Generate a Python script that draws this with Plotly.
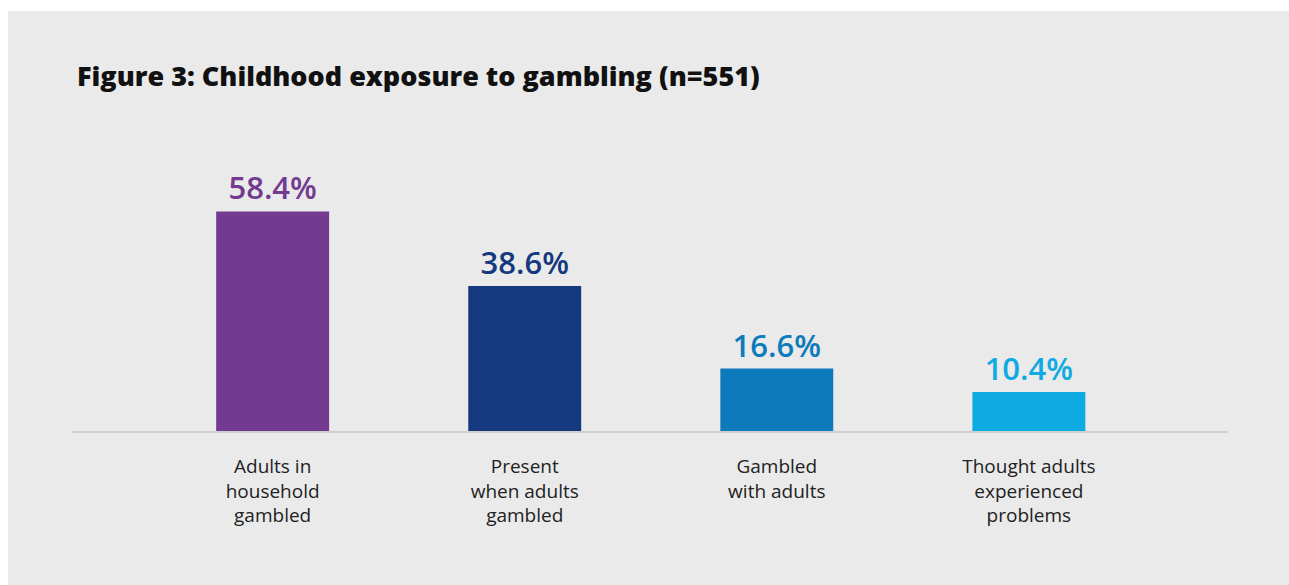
import plotly.graph_objects as go

categories = ["Adults in<br>household<br>gambled", "Present<br>when adults<br>gambled",
              "Gambled<br>with adults", "Thought adults<br>experienced<br>problems"]
values = [58.4, 38.6, 16.6, 10.4]
colors = ["#723a91", "#14397e", "#0d7bbb", "#0eabe2"]
title_text = "Figure 3: Childhood exposure to gambling (n=551)"

W, H = 1289, 585
L, R, T, B = 72, 61, 131, 154
pw, ph = W - L - R, H - T - B

fig = go.Figure(go.Bar(
    x=list(range(len(values))), y=values, width=0.448,
    marker=dict(color=colors, line=dict(width=0)),
    texttemplate="%{y:.1f}%", textposition="outside", cliponaxis=False,
    textfont=dict(color=colors, size=31, family="Open Sans", weight=600),
    hoverinfo="skip",
))

def px_to_paper_x(px):
    return (px - L) / pw

def py_to_paper_y(py):
    return (H - B - py) / ph

# white page border above and left of the grey panel
shapes = [
    dict(type="rect", xref="paper", yref="paper", layer="above",
         x0=px_to_paper_x(-2), x1=px_to_paper_x(W + 2), y0=py_to_paper_y(11), y1=py_to_paper_y(-2),
         fillcolor="white", line=dict(width=0)),
    dict(type="rect", xref="paper", yref="paper", layer="above",
         x0=px_to_paper_x(-2), x1=px_to_paper_x(8), y0=py_to_paper_y(H + 2), y1=py_to_paper_y(-2),
         fillcolor="white", line=dict(width=0)),
]

fig.update_layout(
    width=W, height=H, margin=dict(l=L, r=R, t=T, b=B),
    paper_bgcolor="#eaeaea", plot_bgcolor="#eaeaea",
    showlegend=False, shapes=shapes,
    title=dict(text=title_text, x=77 / W, xanchor="left", y=1 - 77 / H, yanchor="middle",
               xref="container", yref="container",
               font=dict(family="Open Sans", size=27, color="#111111", weight=800)),
    font=dict(family="Open Sans", color="#222222"),
    xaxis=dict(range=[-0.796, 3.79], tickmode="array", tickvals=list(range(len(values))),
               ticktext=categories, ticks="", showline=True, linecolor="#cfcfcf", linewidth=2,
               showgrid=False, zeroline=False, tickfont=dict(size=19, color="#222222"),
               ticklabelstandoff=17),
    yaxis=dict(range=[0, 79.8], visible=False, showgrid=False, zeroline=False),
)

fig.write_html(
    "out.html",
    config={"displayModeBar": False},
    post_script=(
        "document.documentElement.style.overflow='hidden';"
        "document.documentElement.style.background='#eaeaea';"
        "document.body.style.overflow='hidden';"
        "document.body.style.margin='0';"
    ),
)
